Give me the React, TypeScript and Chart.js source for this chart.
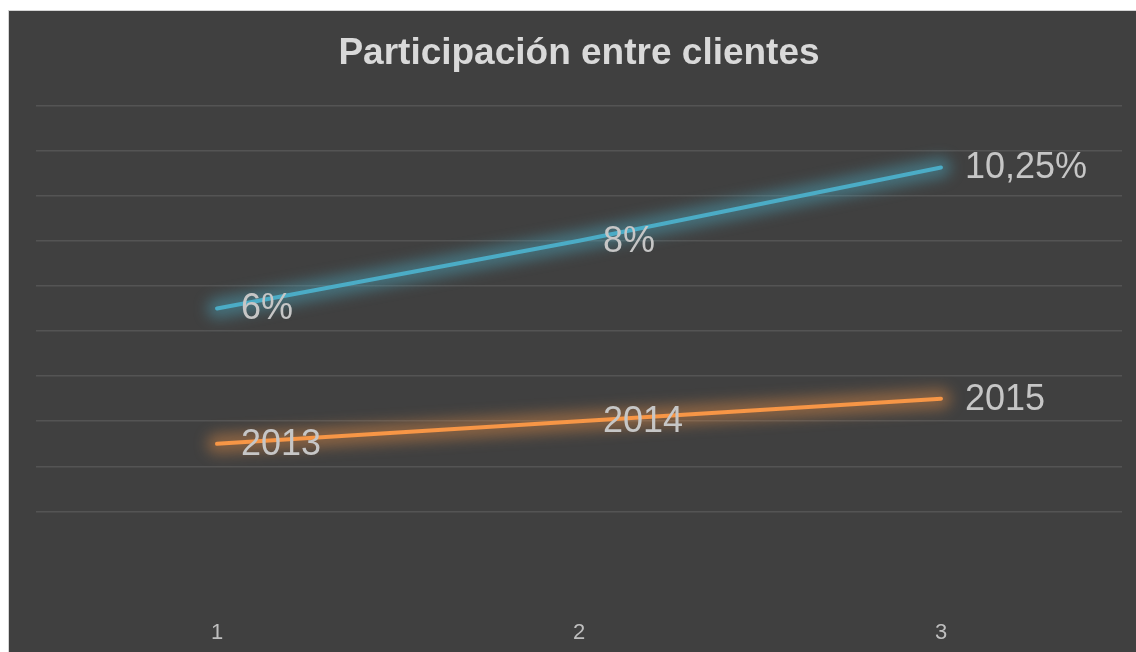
import React, { useEffect, useRef } from "react";
import { Chart, registerables } from "chart.js";

Chart.register(...registerables);

const categories = ["1", "2", "3"];
const baseValues = [5, 6, 7];
const baseLabels = ["2013", "2014", "2015"];
const shareValues = [6, 8, 10.25];
const shareLabels = ["6%", "8%", "10,25%"];
const yTicks = { min: 0, max: 20, step: 2 };

const FONT = "'Liberation Sans', Arial, sans-serif";

const glowPlugin = {
  id: "glow",
  beforeDatasetDraw(chart: any, args: any) {
    const ds = chart.data.datasets[args.index] as any;
    const meta = chart.getDatasetMeta(args.index);
    const pts = meta.data;
    if (!pts.length) return;
    const ctx = chart.ctx;
    ctx.save();
    ctx.filter = "blur(7px)";
    ctx.strokeStyle = ds.glowColor;
    ctx.lineWidth = 20;
    ctx.lineCap = "round";
    ctx.lineJoin = "round";
    ctx.beginPath();
    pts.forEach((p: any, i: number) => (i === 0 ? ctx.moveTo(p.x, p.y) : ctx.lineTo(p.x, p.y)));
    ctx.stroke();
    ctx.restore();
  },
};

const labelPlugin = {
  id: "pointLabels",
  afterDatasetsDraw(chart: any) {
    const ctx = chart.ctx;
    ctx.save();
    ctx.font = `36px ${FONT}`;
    ctx.fillStyle = "#c6c6c6";
    ctx.textAlign = "left";
    ctx.textBaseline = "middle";
    chart.data.datasets.forEach((ds: any, i: number) => {
      const meta = chart.getDatasetMeta(i);
      meta.data.forEach((pt: any, j: number) => {
        ctx.fillText(ds.pointTexts[j], pt.x + 24, pt.y + 1);
      });
    });
    ctx.restore();
  },
};

export default function App() {
  const ref = useRef<HTMLCanvasElement | null>(null);

  useEffect(() => {
    if (!ref.current) return;
    const chart = new Chart(ref.current, {
      type: "line",
      data: {
        labels: categories,
        datasets: [
          {
            label: "Años",
            data: baseValues,
            borderColor: "#F79646",
            borderWidth: 4,
            borderCapStyle: "round",
            pointRadius: 0,
            tension: 0,
            fill: false,
            glowColor: "rgba(247,150,70,0.4)",
            pointTexts: baseLabels,
          } as any,
          {
            label: "Participación",
            data: shareValues,
            borderColor: "#4BACC6",
            borderWidth: 4,
            borderCapStyle: "round",
            pointRadius: 0,
            tension: 0,
            fill: false,
            glowColor: "rgba(75,172,198,0.45)",
            pointTexts: shareLabels,
          } as any,
        ],
      },
      options: {
        animation: false,
        responsive: false,
        maintainAspectRatio: false,
        layout: { padding: { left: 27, right: 14, top: 0, bottom: 2 } },
        plugins: {
          legend: { display: false },
          tooltip: { enabled: false },
          title: {
            display: true,
            text: "Participación entre clientes",
            color: "#d9d9d9",
            font: { family: FONT, size: 37, weight: "bold", lineHeight: 1.2 },
            padding: { top: 21, bottom: 29 },
          },
        },
        scales: {
          x: {
            offset: true,
            grid: { display: false, drawTicks: false },
            border: { display: false },
            ticks: {
              color: "#bfbfbf",
              font: { family: FONT, size: 22, lineHeight: 1.2 },
              padding: 63,
            },
          },
          y: {
            stacked: true,
            min: yTicks.min,
            max: yTicks.max,
            border: { display: false },
            grid: {
              drawTicks: false,
              lineWidth: 1.5,
              color: (c: any) => (c.tick && c.tick.value === 0 ? "rgba(0,0,0,0)" : "#545454"),
            },
            ticks: { display: false, stepSize: yTicks.step },
          },
        },
      },
      plugins: [glowPlugin, labelPlugin],
    });
    return () => chart.destroy();
  }, []);

  return (
    <div
      style={{
        position: "fixed",
        left: 8,
        top: 10,
        width: 1140,
        height: 700,
        overflow: "hidden",
        background: "#404040",
        borderLeft: "1px solid #d4d4d4",
        borderTop: "1px solid #d4d4d4",
      }}
    >
      <canvas ref={ref} width={1127} height={700} style={{ display: "block" }} />
    </div>
  );
}
